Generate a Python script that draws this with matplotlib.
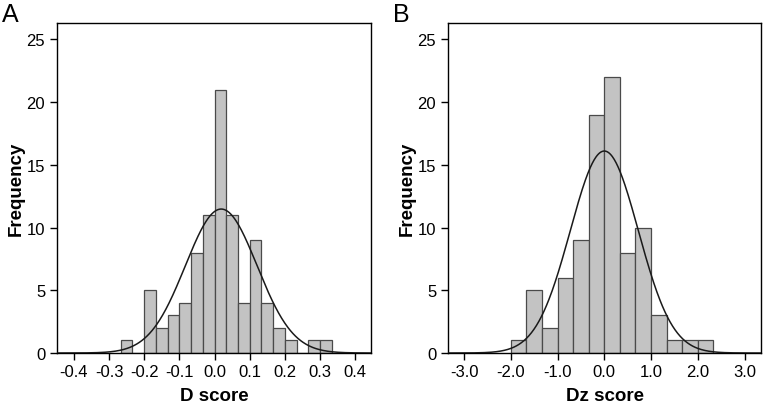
import numpy as np
import matplotlib
matplotlib.use("Agg")
import matplotlib.pyplot as plt

plt.rcParams['font.family'] = ['Liberation Sans', 'DejaVu Sans']
plt.rcParams['axes.unicode_minus'] = False

# Panel A: D score histogram
a_edges = [-0.2667, -0.2333, -0.2, -0.1667, -0.1333, -0.1, -0.0667, -0.0333, 0.0,
           0.0333, 0.0667, 0.1, 0.1333, 0.1667, 0.2, 0.2333, 0.2667, 0.3, 0.3333]
a_counts = [1, 0, 5, 2, 3, 4, 8, 11, 21, 11, 4, 9, 4, 2, 1, 0, 1, 1]
a_mean, a_sd = 0.019, 0.102
a_ticks = [-0.4, -0.3, -0.2, -0.1, 0.0, 0.1, 0.2, 0.3, 0.4]
a_ticklabels = ["-0.4", "-0.3", "-0.2", "-0.1", "0.0", "0.1", "0.2", "0.3", "0.4"]

# Panel B: Dz score histogram
b_edges = [-2.0, -1.6667, -1.3333, -1.0, -0.6667, -0.3333, 0.0, 0.3333, 0.6667,
           1.0, 1.3333, 1.6667, 2.0, 2.3333]
b_counts = [1, 5, 2, 6, 9, 19, 22, 8, 10, 3, 1, 1, 1]
b_mean, b_sd = 0.0, 0.727
b_ticks = [-3.0, -2.0, -1.0, 0.0, 1.0, 2.0, 3.0]
b_ticklabels = ["-3.0", "-2.0", "-1.0", "0.0", "1.0", "2.0", "3.0"]

y_ticks = [0, 5, 10, 15, 20, 25]

fig = plt.figure(figsize=(7.63, 4.06), dpi=100)
W, H = 763, 406

def make_ax(l, r, t, b):
    return fig.add_axes([l / W, 1 - b / H, (r - l) / W, (b - t) / H])

axA = make_ax(57, 371, 24, 354)
axB = make_ax(448, 761, 24, 354)

def draw(ax, edges, counts, mean, sd, xlim, ticks, ticklabels, xlabel):
    edges = np.array(edges)
    counts = np.array(counts)
    widths = np.diff(edges)
    ax.bar(edges[:-1], counts, width=widths, align='edge',
           color='#c3c3c3', edgecolor='#4a4a4a', linewidth=0.9, zorder=2)
    n = counts.sum()
    bw = widths.mean()
    xs = np.linspace(xlim[0], xlim[1], 500)
    ys = n * bw / (sd * np.sqrt(2 * np.pi)) * np.exp(-0.5 * ((xs - mean) / sd) ** 2)
    ax.plot(xs, ys, color='#1a1a1a', linewidth=1.1, zorder=3)
    ax.set_xlim(*xlim)
    ax.set_ylim(0, 26.3)
    ax.set_xticks(ticks)
    ax.set_xticklabels(ticklabels)
    ax.set_yticks(y_ticks)
    ax.tick_params(axis='both', direction='out', length=5, width=1, labelsize=12, colors='black')
    ax.tick_params(axis='x', pad=3)
    for s in ax.spines.values():
        s.set_linewidth(1.0)
        s.set_color('black')
    ax.set_xlabel(xlabel, fontsize=13.5, fontweight='bold', labelpad=6)
    ax.set_ylabel('Frequency', fontsize=13.5, fontweight='bold', labelpad=1)

draw(axA, a_edges, a_counts, a_mean, a_sd, (-0.448, 0.445), a_ticks, a_ticklabels, 'D score')
draw(axB, b_edges, b_counts, b_mean, b_sd, (-3.343, 3.351), b_ticks, b_ticklabels, 'Dz score')

fig.text(2 / W, 1 - 3 / H, 'A', fontsize=18, va='top', ha='left')
fig.text(393 / W, 1 - 3 / H, 'B', fontsize=18, va='top', ha='left')

fig.savefig('out.png', dpi=100)
